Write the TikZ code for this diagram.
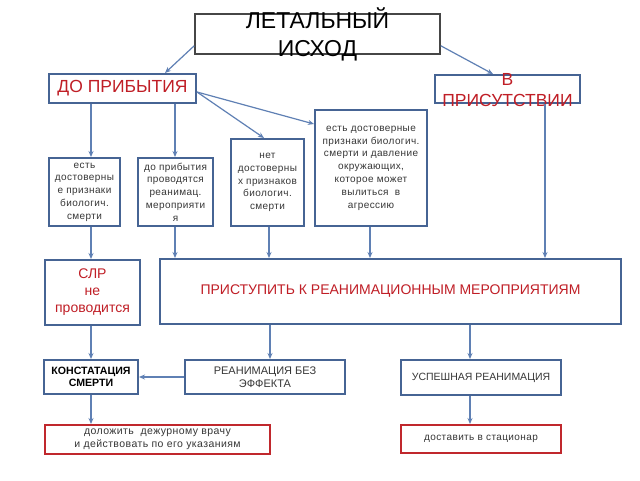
\documentclass[tikz,border=0pt]{standalone}
\usepackage{fontspec}
\setmainfont{Liberation Sans}
\usetikzlibrary{arrows.meta}
\definecolor{boxblue}{RGB}{70,100,148}
\definecolor{arrblue}{RGB}{95,128,180}
\definecolor{redtxt}{RGB}{192,30,38}
\definecolor{redbox}{RGB}{192,40,45}
\definecolor{graytxt}{RGB}{55,55,55}
\definecolor{topgray}{RGB}{70,70,70}
\begin{document}
\begin{tikzpicture}[x=1pt,y=-1pt,
 bx/.style={draw=boxblue,line width=2pt,inner sep=0pt,align=center},
 rbx/.style={draw=redbox,line width=2pt,inner sep=0pt,align=center},
 arr/.style={draw=arrblue,line width=1.2pt,-{Stealth[length=6pt,width=5pt]}},
 small/.style={font=\fontsize{10}{12.8}\selectfont\addfontfeatures{LetterSpace=4},text=graytxt},
 redbig/.style={text=redtxt,align=center},
]
\useasboundingbox[fill=white] (0,0) rectangle (640,480);

% top
\node[draw=topgray,line width=1.5pt,minimum width=245pt,minimum height=40pt,inner sep=0pt] (top) at (317.5,34) {};
\node[align=center,font=\fontsize{23}{27.5}\selectfont,inner sep=0pt] (toptxt) at (317.5,34.5) {ЛЕТАЛЬНЫЙ\\ИСХОД};

% second row
\node[bx,minimum width=147pt,minimum height=29pt,redbig,font=\fontsize{17.5}{19}\selectfont] (do) at (122.5,88.5) {ДО ПРИБЫТИЯ};
\node[bx,minimum width=145pt,minimum height=28pt] (pr) at (507.5,89) {};
\node[redbig,inner sep=0pt,font=\fontsize{17.5}{21}\selectfont] (prtxt) at (507.5,90) {В\\ПРИСУТСТВИИ};

% small boxes
\node[bx,small,minimum width=71pt,minimum height=68pt] (b1) at (84.5,192) {есть\\достоверны\\е признаки\\биологич.\\смерти};
\node[bx,small,minimum width=75pt,minimum height=68pt] (b2) at (175.5,192) {до прибытия\\проводятся\\реанимац.\\мероприяти\\я};
\node[bx,small,minimum width=73pt,minimum height=87pt] (b3) at (267.5,182.5) {нет\\достоверны\\х признаков\\биологич.\\смерти};
\node[bx,small,minimum width=112pt,minimum height=116pt] (b4) at (371,168) {есть достоверные\\признаки биологич.\\смерти и давление\\окружающих,\\которое может\\вылиться \ в\\агрессию};

% third row
\node[bx,redbig,minimum width=95pt,minimum height=65pt,font=\fontsize{14}{17}\selectfont] (slr) at (92.5,292.5) {СЛР\\не\\проводится};
\node[bx,redbig,minimum width=461pt,minimum height=65pt,font=\fontsize{14}{17}\selectfont] (rean) at (390.5,291.5) {ПРИСТУПИТЬ К РЕАНИМАЦИОННЫМ МЕРОПРИЯТИЯМ};

% fourth row
\node[bx,minimum width=94pt,minimum height=34pt,font=\fontsize{10.6}{12}\selectfont\bfseries] (konst) at (91,377) {КОНСТАТАЦИЯ\\СМЕРТИ};
\node[bx,minimum width=160pt,minimum height=34pt,font=\fontsize{11}{13}\selectfont,text=graytxt] (bez) at (265,377) {РЕАНИМАЦИЯ БЕЗ\\ЭФФЕКТА};
\node[bx,minimum width=160pt,minimum height=35pt,font=\fontsize{10.5}{13}\selectfont,text=graytxt] (usp) at (481,377.5) {УСПЕШНАЯ РЕАНИМАЦИЯ};

% fifth row
\node[rbx,minimum width=225pt,minimum height=29pt,text=graytxt,font=\fontsize{10.5}{13}\selectfont\addfontfeatures{LetterSpace=4}] (dol) at (157.5,439.5) {доложить \ дежурному врачу\\и действовать по его указаниям};
\node[rbx,small,minimum width=160pt,minimum height=28pt] (dost) at (481,439) {доставить в стационар};

% connectors
\draw[arr] ([yshift=9pt]top.south west) -- ([xshift=42.5pt]do.north);
\draw[arr] ([yshift=9pt]top.south east) -- ([xshift=-14.5pt]pr.north);
\draw[arr] (do.south -| 91,0) -- (b1.north -| 91,0);
\draw[arr] (do.south -| 175,0) -- (b2.north -| 175,0);
\draw[arr] ([yshift=-3.5pt]do.east) -- (b3.north -| 264,0);
\draw[arr] ([yshift=-3.5pt]do.east) -- ([yshift=-15pt]b4.north west);
\draw[arr] (pr.south -| 545,0) -- (rean.north -| 545,0);
\draw[arr] (b1.south -| 91,0) -- (slr.north -| 91,0);
\draw[arr] (b2.south -| 175,0) -- (rean.north -| 175,0);
\draw[arr] (b3.south -| 269,0) -- (rean.north -| 269,0);
\draw[arr] (b4.south -| 370,0) -- (rean.north -| 370,0);
\draw[arr] (slr.south -| 91,0) -- (konst.north -| 91,0);
\draw[arr] (rean.south -| 270,0) -- (bez.north -| 270,0);
\draw[arr] (rean.south -| 470,0) -- (usp.north -| 470,0);
\draw[arr] (bez.west) -- (konst.east);
\draw[arr] (konst.south -| 91,0) -- (dol.north -| 91,0);
\draw[arr] (usp.south -| 470,0) -- (dost.north -| 470,0);
\end{tikzpicture}
\end{document}
